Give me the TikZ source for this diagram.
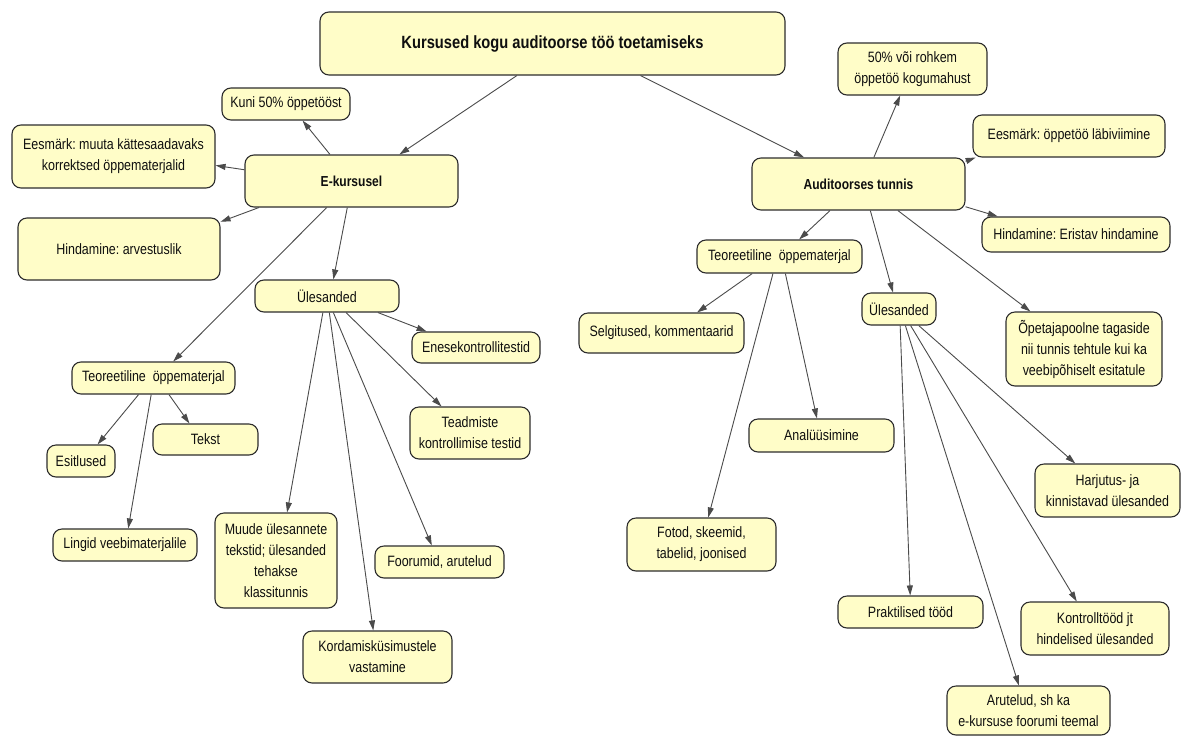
\documentclass[tikz,border=0pt]{standalone}
\usepackage{fontspec}
\setmainfont[FakeStretch=0.83]{Liberation Sans}
\usetikzlibrary{arrows.meta}
\frenchspacing
\definecolor{boxfill}{RGB}{255,253,200}
\definecolor{boxline}{RGB}{45,45,45}
\definecolor{linkline}{RGB}{75,75,75}
\definecolor{ink}{RGB}{15,15,15}
\tikzset{
  concept/.style={draw=boxline, fill=boxfill, line width=1.1pt, rounded corners=9pt,
    inner sep=0pt, align=center, text=ink, font=\fontsize{15}{21}\selectfont},
  hub/.style={concept, font=\fontsize{14.5}{18}\selectfont\bfseries},
  link/.style={draw=linkline, line width=0.9pt, -{Triangle[length=10pt,width=6pt]}},
}
\begin{document}
\begin{tikzpicture}[x=1pt,y=-1pt]
\fill[white] (0,0) rectangle (1183,737);
\useasboundingbox (0,0) rectangle (1183,737);

% root
\node[concept, minimum width=465pt, minimum height=63pt,
      font=\fontsize{17.7}{21}\selectfont\bfseries] (title) at (552.5,43.5)
      {Kursused kogu auditoorse töö toetamiseks};

% left branch: e-course
\node[hub, minimum width=213pt, minimum height=52pt] (ek) at (351.5,181) {E-kursusel};
\node[concept, minimum width=128pt, minimum height=32pt] (kuni) at (286,104) {Kuni 50\% öppetööst};
\node[concept, minimum width=203pt, minimum height=63pt] (eesL) at (113.5,156.5)
      {Eesmärk: muuta kättesaadavaks\\korrektsed öppematerjalid};
\node[concept, minimum width=202pt, minimum height=62pt] (hindL) at (119,249) {Hindamine: arvestuslik};
\node[concept, minimum width=144pt, minimum height=32pt] (ulesL) at (327,296) {Ülesanded};
\node[concept, minimum width=128pt, minimum height=31pt] (enes) at (476,347.5) {Enesekontrollitestid};
\node[concept, minimum width=120pt, minimum height=52pt] (teadm) at (470,433) {Teadmiste\\kontrollimise testid};
\node[concept, minimum width=163pt, minimum height=32pt] (teoL) at (153.5,378) {Teoreetiline\ \ öppematerjal};
\node[concept, minimum width=105pt, minimum height=31pt] (tekst) at (205.5,439.5) {Tekst};
\node[concept, minimum width=68pt, minimum height=32pt] (esit) at (81,461) {Esitlused};
\node[concept, minimum width=144pt, minimum height=32pt] (lingid) at (125,545) {Lingid veebimaterjalile};
\node[concept, minimum width=122pt, minimum height=95pt] (muude) at (276,560.5)
      {Muude ülesannete\\tekstid; ülesanded\\tehakse\\klassitunnis};
\node[concept, minimum width=129pt, minimum height=32pt] (foor) at (439.5,562) {Foorumid, arutelud};
\node[concept, minimum width=149pt, minimum height=52pt] (korda) at (377.5,657) {Kordamisküsimustele\\vastamine};

% right branch: classroom lesson
\node[hub, minimum width=213pt, minimum height=52pt] (aud) at (858.5,184) {Auditoorses tunnis};
\node[concept, minimum width=149pt, minimum height=52pt] (r50) at (912.5,69) {50\% või rohkem\\öppetöö kogumahust};
\node[concept, minimum width=192pt, minimum height=42pt] (eesR) at (1069,136) {Eesmärk: öppetöö läbiviimine};
\node[concept, minimum width=188pt, minimum height=35pt] (hindR) at (1076,234.5) {Hindamine: Eristav hindamine};
\node[concept, minimum width=165pt, minimum height=33pt] (teoR) at (779.5,256.5) {Teoreetiline\ \ öppematerjal};
\node[concept, minimum width=165pt, minimum height=40pt] (selg) at (661.5,333) {Selgitused, kommentaarid};
\node[concept, minimum width=74pt, minimum height=32pt] (ulesR) at (899,309) {Ülesanded};
\node[concept, minimum width=156pt, minimum height=74pt] (opet) at (1084,349)
      {Õpetajapoolne tagaside\\nii tunnis tehtule kui ka\\veebipõhiselt esitatule};
\node[concept, minimum width=145pt, minimum height=33pt] (anal) at (821.5,435.5) {Analüüsimine};
\node[concept, minimum width=145pt, minimum height=53pt] (harj) at (1107.5,490.5) {Harjutus- ja\\kinnistavad ülesanded};
\node[concept, minimum width=149pt, minimum height=53pt] (fotod) at (701.5,544.5) {Fotod, skeemid,\\tabelid, joonised};
\node[concept, minimum width=145pt, minimum height=32pt] (prakt) at (910.5,612) {Praktilised tööd};
\node[concept, minimum width=148pt, minimum height=53pt] (kontr) at (1095,628.5) {Kontrolltööd jt\\hindelised ülesanded};
\node[concept, minimum width=163pt, minimum height=49pt] (arut) at (1028.5,710.5) {Arutelud, sh ka\\e-kursuse foorumi teemal};

% connectors
\draw[link] (title.-138.4) -- (ek.29.7);
\draw[link] (title.-20.9) -- (aud.154.9);

\draw[link] (ek.129.6) -- (kuni.-45);
\draw[link] (ek.174.1) -- (eesL.-5.9);
\draw[link] (ek.-164.5) -- (hindL.15.3);
\draw[link] (ek.-133.3) -- (teoL.40.9);
\draw[link] (ek.-99.8) -- (ulesL.69.4);

\draw[link] (ulesL.-18.4) -- (enes.162.1);
\draw[link] (ulesL.-41.6) -- (teadm.137.1);
\draw[link] (ulesL.-104) -- (muude.77);
\draw[link] (ulesL.-82.9) -- (korda.99.8);
\draw[link] (ulesL.-69.4) -- (foor.115.1);

\draw[link] (teoL.-132.2) -- (esit.45);
\draw[link] (teoL.-47.8) -- (tekst.135);
\draw[link] (teoL.-98.9) -- (lingid.79.4);

\draw[link] (aud.60.9) -- (r50.-115.7);
\draw[link] (aud.12) -- (eesR.-167);
\draw[link] (aud.-12.9) -- (hindR.167.5);
\draw[link] (aud.-137.6) -- (teoR.41.7);
\draw[link] (aud.-66.1) -- (ulesR.110.6);
\draw[link] (aud.-34) -- (opet.145.1);

\draw[link] (teoR.-148.1) -- (selg.30.8);
\draw[link] (teoR.-111.5) -- (fotod.76.2);
\draw[link] (teoR.-71.6) -- (anal.105.3);

\draw[link] (ulesR.-86.4) -- (prakt.91.8);
\draw[link] (ulesR.-69.4) -- (arut.111.2);
\draw[link] (ulesR.-55.5) -- (kontr.124.2);
\draw[link] (ulesR.-40.1) -- (harj.140.8);
\end{tikzpicture}
\end{document}
